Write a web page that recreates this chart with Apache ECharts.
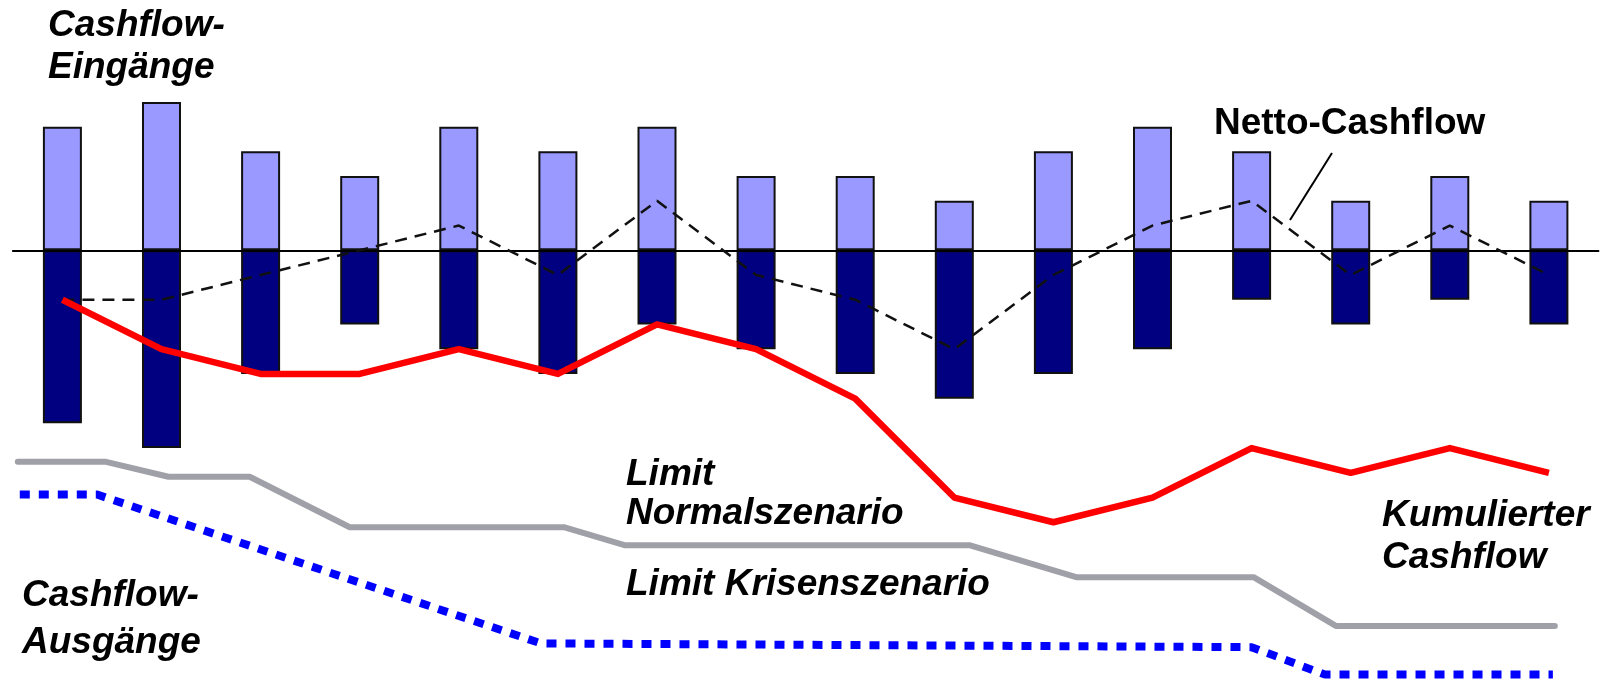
<!DOCTYPE html>
<html>
<head>
<meta charset="utf-8">
<script src="https://cdn.jsdelivr.net/npm/echarts@6/dist/echarts.min.js"></script>
<style>
html,body{margin:0;padding:0;background:#fff;}
#chart{width:1603px;height:683px;}
</style>
</head>
<body>
<div id="chart"></div>
<script>
// Periods
const categories = ['1','2','3','4','5','6','7','8','9','10','11','12','13','14','15','16'];
// Cashflow-Eingänge (inflows) and Cashflow-Ausgänge (outflows)
const inflows  = [5, 6, 4, 3, 5, 4, 5, 3, 3, 2, 4, 5, 4, 2, 3, 2];
const outflows = [-7, -8, -5, -3, -4, -5, -3, -4, -5, -6, -5, -4, -2, -3, -2, -3];
// Netto-Cashflow
const netCashflow = [-2, -2, -1, 0, 1, -1, 2, -1, -2, -4, -1, 1, 2, -1, 1, -1];
// Kumulierter Cashflow
const cumulativeCashflow = [-2, -4, -5, -5, -4, -5, -3, -4, -6, -10, -11, -10, -8, -9, -8, -9];
// Limit Normalszenario (x in period-index units)
const limitNormalX = [-0.45, 0.43, 1.07, 1.89, 2.9, 5.06, 5.68, 9.16, 10.23, 12.02, 12.85, 15.06];
const limitNormalY = [-8.55, -8.55, -9.16, -9.16, -11.2, -11.2, -11.93, -11.93, -13.22, -13.22, -15.19, -15.19];
// Limit Krisenszenario
const limitCrisisX = [-0.43, 0.35, 4.83, 12.0, 12.74, 15.04];
const limitCrisisY = [-9.88, -9.88, -15.9, -16.05, -17.16, -17.16];

const pairs = (xs, ys) => xs.map((x, i) => [x, ys[i]]);

const FONT = '"Liberation Sans", Arial, Helvetica, sans-serif';
function label(text, x, y, italic) {
  return {
    type: 'text', x: x, y: y, z: 100,
    style: {
      text: text, fill: '#000',
      font: (italic ? 'italic ' : '') + 'bold 37px ' + FONT,
      textAlign: 'left',
      textVerticalAlign: 'middle'
    }
  };
}

const chart = echarts.init(document.getElementById('chart'), null, {renderer: 'canvas'});
chart.setOption({
  animation: false,
  backgroundColor: '#ffffff',
  grid: {left: 12.85, width: 1585.6, top: 3, height: 683.4},
  xAxis: [
    {
      type: 'category', data: categories, boundaryGap: true, z: 5,
      axisLine: {show: true, onZero: true, lineStyle: {color: '#000', width: 2}},
      axisTick: {show: false}, axisLabel: {show: false}, splitLine: {show: false}
    },
    {
      type: 'value', min: -0.5, max: 15.5, show: false,
      splitLine: {show: false}
    }
  ],
  yAxis: {
    type: 'value', min: -17.5, max: 10, show: false,
    splitLine: {show: false}
  },
  series: [
    {
      name: 'Cashflow-Eingänge', type: 'bar', data: inflows, barWidth: 39, barGap: '-100%',
      itemStyle: {color: '#9999ff', borderColor: '#111', borderWidth: 2}, z: 2
    },
    {
      name: 'Cashflow-Ausgänge', type: 'bar', data: outflows, barWidth: 39, barGap: '-100%',
      itemStyle: {color: '#000080', borderColor: '#111', borderWidth: 2}, z: 2
    },
    {
      name: 'Netto-Cashflow', type: 'line', data: netCashflow, symbol: 'none', z: 6,
      lineStyle: {color: '#111', width: 2.5, type: [12, 8]}
    },
    {
      name: 'Kumulierter Cashflow', type: 'line', data: cumulativeCashflow, symbol: 'none', z: 7,
      lineStyle: {color: '#ff0000', width: 6.5, join: 'round'}
    },
    {
      name: 'Limit Normalszenario', type: 'line', xAxisIndex: 1, data: pairs(limitNormalX, limitNormalY),
      symbol: 'none', z: 6, clip: false,
      lineStyle: {color: '#a0a0a8', width: 6, cap: 'round', join: 'round'}
    },
    {
      name: 'Limit Krisenszenario', type: 'line', xAxisIndex: 1, data: pairs(limitCrisisX, limitCrisisY),
      symbol: 'none', z: 6, clip: false,
      lineStyle: {color: '#0000ff', width: 8, type: [10, 9]}
    }
  ],
  graphic: [
    label('Cashflow-', 48, 26, true),
    label('Eingänge', 48, 68, true),
    label('Netto-Cashflow', 1214, 124, false),
    label('Limit', 626, 475, true),
    label('Normalszenario', 626, 514, true),
    label('Limit Krisenszenario', 626, 585, true),
    label('Cashflow-', 22, 596, true),
    label('Ausgänge', 22, 643, true),
    label('Kumulierter', 1382, 516, true),
    label('Cashflow', 1382, 558, true),
    {
      type: 'line', z: 100,
      shape: {x1: 1290, y1: 220, x2: 1332, y2: 153},
      style: {stroke: '#000', lineWidth: 2}
    }
  ]
});
</script>
</body>
</html>
